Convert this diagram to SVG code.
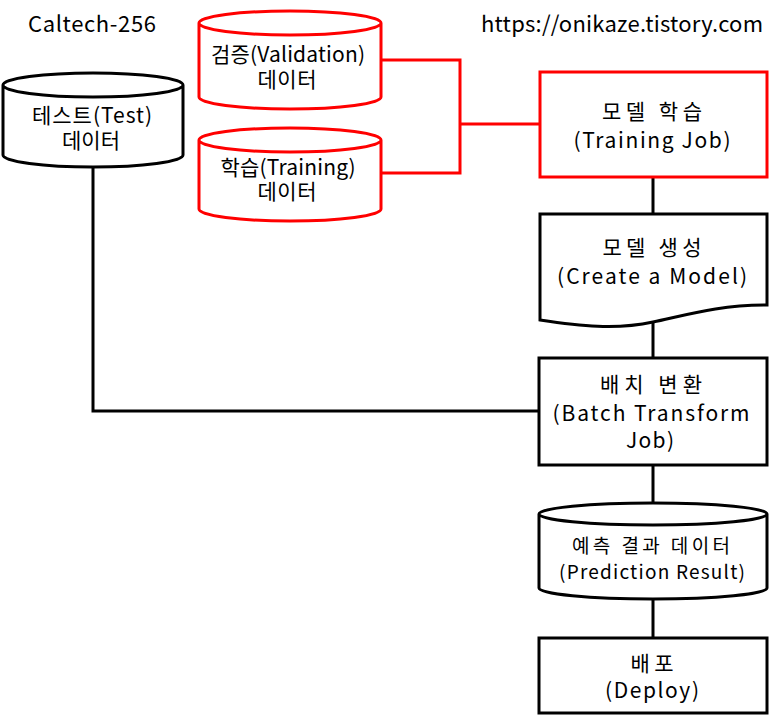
<svg xmlns="http://www.w3.org/2000/svg" width="780" height="716" viewBox="0 0 780 716">
<style>
text{font-family:"Noto Sans CJK KR","Noto Sans",sans-serif;font-size:21px;fill:#000;text-anchor:middle}
.blk{fill:#fff;stroke:#000;stroke-width:3}
.red{fill:#fff;stroke:#f00;stroke-width:3}
.ln{fill:none;stroke:#000;stroke-width:3}
.rln{fill:none;stroke:#f00;stroke-width:3}
.sm{font-size:19px}
.hd{font-size:22px}
</style>
<rect width="780" height="716" fill="#fff"/>
<text class="hd" x="92" y="32" textLength="128" lengthAdjust="spacing">Caltech-256</text>
<text class="hd" x="622" y="32" textLength="282" lengthAdjust="spacing">https://onikaze.tistory.com</text>
<g id="connectors">
<path class="rln" d="M381,60 H460 V173 H381 M460,124 H540"/>
<path class="ln" d="M653,177 V214 M653,322 V358 M93,167 V411 H539 M653,465 V503 M653,600 V638"/>
</g>
<g id="test">
<path class="blk" d="M3,85 V155 A90,12 0 0 0 183,155 V85 A90,12 0 0 0 3,85 A90,12 0 0 0 183,85"/>
<text x="92" y="123" textLength="120" lengthAdjust="spacing">테스트(Test)</text>
<text x="91" y="148" textLength="58" lengthAdjust="spacing">데이터</text>
</g>
<g id="validation">
<path class="red" d="M199,23 V97 A91,12 0 0 0 381,97 V23 A91,12 0 0 0 199,23 A91,12 0 0 0 381,23"/>
<text x="288" y="62" textLength="154" lengthAdjust="spacing">검증(Validation)</text>
<text x="287" y="87" textLength="59" lengthAdjust="spacing">데이터</text>
</g>
<g id="training">
<path class="red" d="M199,140 V209 A91,12 0 0 0 381,209 V140 A91,12 0 0 0 199,140 A91,12 0 0 0 381,140"/>
<text x="288" y="175" textLength="135" lengthAdjust="spacing">학습(Training)</text>
<text x="287" y="199" textLength="59" lengthAdjust="spacing">데이터</text>
</g>
<g id="trainjob">
<rect class="red" x="540" y="72" width="227" height="105"/>
<text x="652" y="119" textLength="100" lengthAdjust="spacing">모델 학습</text>
<text x="652" y="148" textLength="157" lengthAdjust="spacing">(Training Job)</text>
</g>
<g id="model">
<path class="blk" d="M540,214 H767 V305 C720,305 690,314 653,322 C616,330 580,326 540,320 Z"/>
<text x="652" y="255" textLength="99" lengthAdjust="spacing">모델 생성</text>
<text x="652" y="284" textLength="190" lengthAdjust="spacing">(Create a Model)</text>
</g>
<g id="batch">
<rect class="blk" x="539" y="358" width="228" height="107"/>
<text x="651" y="392" textLength="102" lengthAdjust="spacing">배치 변환</text>
<text x="651" y="421" textLength="197" lengthAdjust="spacing">(Batch Transform</text>
<text x="650" y="448" textLength="48" lengthAdjust="spacing">Job)</text>
</g>
<g id="prediction">
<path class="blk" d="M539,514 V588 A114,11 0 0 0 767,588 V514 A114,11 0 0 0 539,514 A114,11 0 0 0 767,514"/>
<text class="sm" x="651" y="553" textLength="158" lengthAdjust="spacing">예측 결과 데이터</text>
<text class="sm" x="652" y="579" textLength="186" lengthAdjust="spacing">(Prediction Result)</text>
</g>
<g id="deploy">
<rect class="blk" x="539" y="638" width="228" height="75"/>
<text x="652" y="671" textLength="43" lengthAdjust="spacing">배포</text>
<text x="652" y="698" textLength="94" lengthAdjust="spacing">(Deploy)</text>
</g>
</svg>
